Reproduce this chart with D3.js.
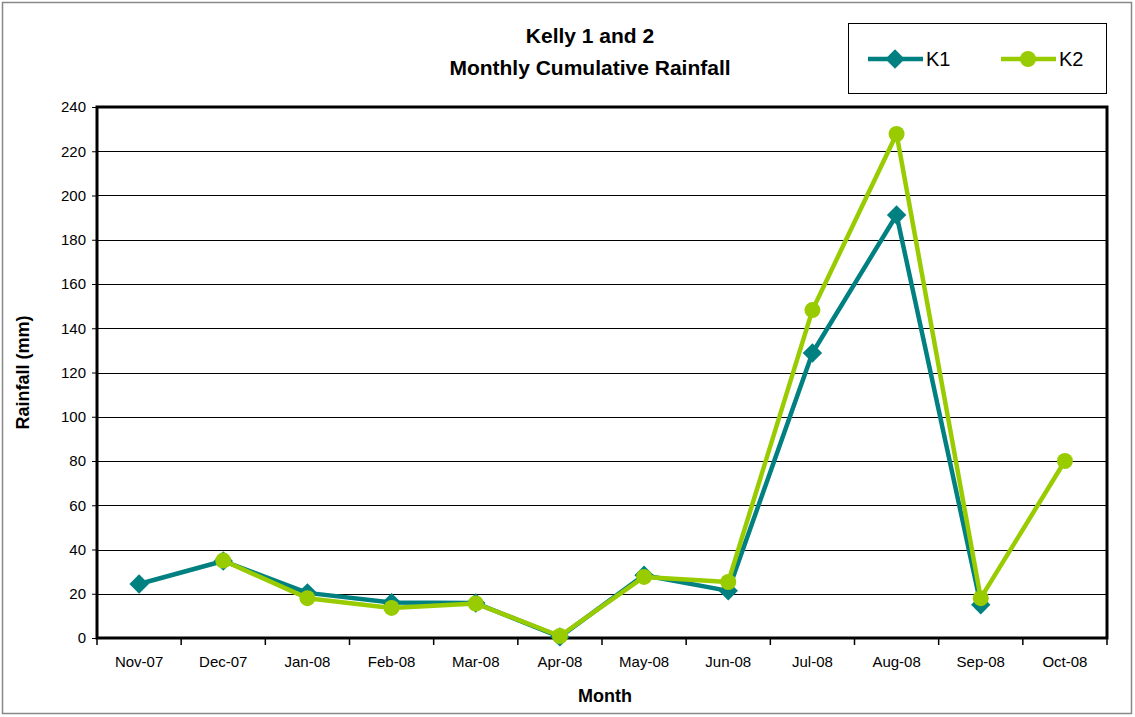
<!DOCTYPE html>
<html>
<head>
<meta charset="utf-8">
<script src="https://cdn.jsdelivr.net/npm/d3@7"></script>
<style>
  body { margin: 0; background: #fff; }
  text { font-family: "Liberation Sans", Arial, sans-serif; }
</style>
</head>
<body>
<div id="chart"></div>
<script>
var months = ["Nov-07", "Dec-07", "Jan-08", "Feb-08", "Mar-08", "Apr-08",
              "May-08", "Jun-08", "Jul-08", "Aug-08", "Sep-08", "Oct-08"];
var k1Values = [24.4, 34.8, 20.4, 16, 15.8, 0.5, 28.4, 21.3, 128.8, 191.2, 15, null];
var k2Values = [null, 35, 18, 13.6, 15.6, 0.9, 27.6, 25.3, 148.2, 227.8, 18, 80];
var yTicks = [0, 20, 40, 60, 80, 100, 120, 140, 160, 180, 200, 220, 240];

var margin = {top: 107, right: 28, bottom: 79, left: 97},
    width = 1135 - margin.left - margin.right,
    height = 717 - margin.top - margin.bottom;

var svg = d3.select("#chart")
  .append("svg")
    .attr("width", 1135)
    .attr("height", 717);

// outer chart border
svg.append("rect")
    .attr("x", 2.5).attr("y", 2.5)
    .attr("width", 1129).attr("height", 711)
    .attr("fill", "#fff")
    .attr("stroke", "#888")
    .attr("stroke-width", 1.5);

var g = svg.append("g")
    .attr("transform", "translate(" + margin.left + "," + margin.top + ")");

var x = d3.scaleBand()
  .domain(months)
  .range([0, width]);

var y = d3.scaleLinear()
  .domain([0, 240])
  .range([height, 0]);

// gridlines
g.selectAll(".grid")
  .data(yTicks.slice(1))
  .enter()
  .append("line")
    .attr("x1", 0).attr("x2", width)
    .attr("y1", function(d) { return Math.round(y(d)) + 0.5; })
    .attr("y2", function(d) { return Math.round(y(d)) + 0.5; })
    .attr("stroke", "#000")
    .attr("stroke-width", 1);

// y axis
var yAxis = g.append("g")
  .call(d3.axisLeft(y).tickValues(yTicks).tickSize(5).tickPadding(6));
yAxis.select(".domain").remove();
yAxis.selectAll("text").style("font-size", "15px").attr("fill", "#000");

// x axis, ticks drawn at band boundaries
var xAxis = g.append("g")
  .attr("transform", "translate(0," + height + ")")
  .call(d3.axisBottom(x).tickSize(0).tickPadding(18));
xAxis.select(".domain").remove();
xAxis.selectAll("text").style("font-size", "15px").attr("fill", "#000");

g.selectAll(".xtick")
  .data(months.concat(["end"]))
  .enter()
  .append("line")
    .attr("x1", function(d, i) { return i * x.step(); })
    .attr("x2", function(d, i) { return i * x.step(); })
    .attr("y1", height)
    .attr("y2", height + 7)
    .attr("stroke", "#000")
    .attr("stroke-width", 1.5);

// plot frame
g.append("rect")
    .attr("width", width)
    .attr("height", height)
    .attr("fill", "none")
    .attr("stroke", "#000")
    .attr("stroke-width", 3);

var cx = function(i) { return x(months[i]) + x.bandwidth() / 2; };

function seriesLine(values, color) {
  var line = d3.line()
    .defined(function(d) { return d != null; })
    .x(function(d, i) { return cx(i); })
    .y(function(d) { return y(d); });
  g.append("path")
    .datum(values)
    .attr("fill", "none")
    .attr("stroke", color)
    .attr("stroke-width", 4.5)
    .attr("stroke-linejoin", "round")
    .attr("d", line);
}

var k1Color = "#008080", k2Color = "#99cc00";
var diamond = d3.symbol().type(d3.symbolDiamond2).size(240);

seriesLine(k1Values, k1Color);
g.selectAll(".k1")
  .data(k1Values.map(function(v, i) { return {v: v, i: i}; }).filter(function(d) { return d.v != null; }))
  .enter()
  .append("path")
    .attr("d", diamond)
    .attr("transform", function(d) { return "translate(" + cx(d.i) + "," + y(d.v) + ")"; })
    .attr("fill", k1Color);

seriesLine(k2Values, k2Color);
g.selectAll(".k2")
  .data(k2Values.map(function(v, i) { return {v: v, i: i}; }).filter(function(d) { return d.v != null; }))
  .enter()
  .append("circle")
    .attr("cx", function(d) { return cx(d.i); })
    .attr("cy", function(d) { return y(d.v); })
    .attr("r", 8)
    .attr("fill", k2Color);

// titles
svg.append("text")
    .attr("x", 590).attr("y", 43)
    .attr("text-anchor", "middle")
    .attr("font-weight", 700)
    .style("font-size", "21px")
    .text("Kelly 1 and 2");
svg.append("text")
    .attr("x", 590).attr("y", 75)
    .attr("text-anchor", "middle")
    .attr("font-weight", 700)
    .style("font-size", "21px")
    .text("Monthly Cumulative Rainfall");

svg.append("text")
    .attr("x", 605).attr("y", 702)
    .attr("text-anchor", "middle")
    .attr("font-weight", 700)
    .style("font-size", "18px")
    .text("Month");

svg.append("text")
    .attr("transform", "translate(29," + (margin.top + height / 2) + ") rotate(-90)")
    .attr("text-anchor", "middle")
    .attr("font-weight", 700)
    .style("font-size", "18px")
    .text("Rainfall (mm)");

// legend
var legend = svg.append("g").attr("transform", "translate(848,23)");
legend.append("rect")
    .attr("x", 0.5).attr("y", 0.5)
    .attr("width", 258).attr("height", 70)
    .attr("fill", "#fff")
    .attr("stroke", "#000")
    .attr("stroke-width", 1);

var legendItems = [
  {name: "K1", color: k1Color, x: 20},
  {name: "K2", color: k2Color, x: 153}
];
legendItems.forEach(function(d) {
  legend.append("line")
    .attr("x1", d.x).attr("x2", d.x + 55)
    .attr("y1", 36).attr("y2", 36)
    .attr("stroke", d.color)
    .attr("stroke-width", 4.5);
  if (d.name === "K1") {
    legend.append("path")
      .attr("d", diamond)
      .attr("transform", "translate(" + (d.x + 27) + ",36)")
      .attr("fill", d.color);
  } else {
    legend.append("circle")
      .attr("cx", d.x + 27).attr("cy", 36).attr("r", 8)
      .attr("fill", d.color);
  }
  legend.append("text")
    .attr("x", d.x + 58).attr("y", 43)
    .style("font-size", "20px")
    .text(d.name);
});
</script>
</body>
</html>
